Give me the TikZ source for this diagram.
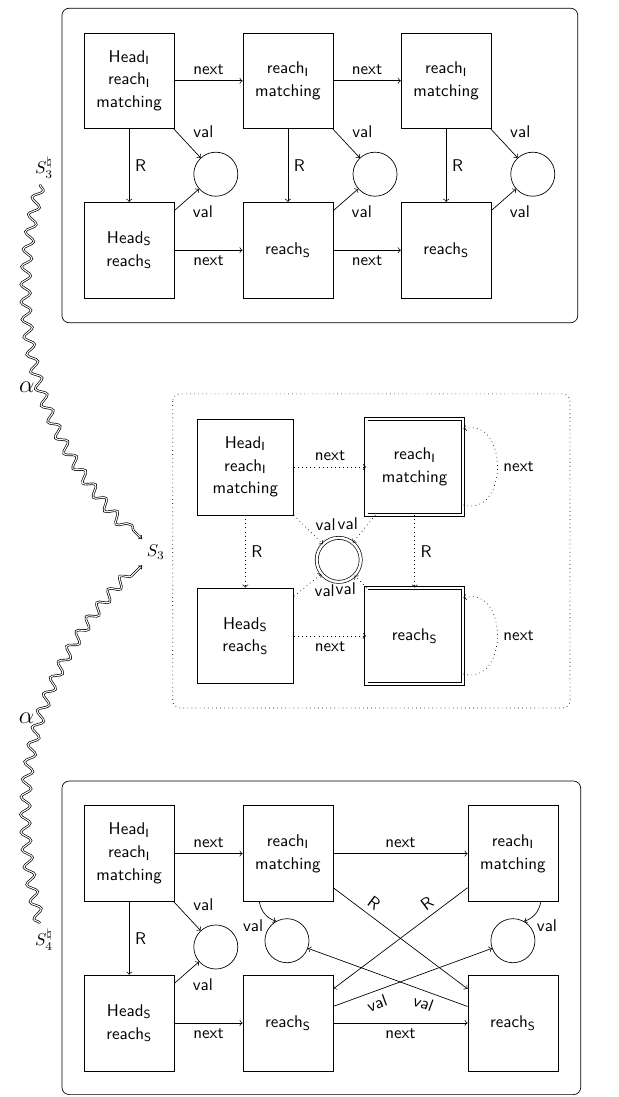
\documentclass[tikz,border=0pt]{standalone}
\usepackage{tikz}
\usetikzlibrary{arrows,arrows.meta,decorations.pathmorphing}

\begin{document}
\begin{tikzpicture}[>=to,auto,font=\sffamily]
  \tikzstyle{cell}=[draw,align=center,minimum width=1.86cm,minimum height=1.98cm,inner sep=1pt,
    font=\sffamily\linespread{1.12}\selectfont]
  \tikzstyle{valnode}=[draw,circle,minimum size=0.91cm,inner sep=0pt]
  \tikzstyle{summary}=[double,double distance=1.4pt]
  \tikzstyle{panel}=[rounded corners=1.5mm]
  \tikzstyle{abstraction}=[-{Implies[scale=1.3]},double,decorate,
    decoration={snake,amplitude=0.1cm,segment length=0.36cm,post length=1.5mm}]

  \useasboundingbox (0,0) rectangle (12.79,-22.67);

  % the heap S_3^natural
  \draw[panel] (1.28,-0.17) rectangle (11.94,-6.67);
  \node[cell]    (TI1) at (2.67,-1.67) {Head$_\mathsf{I}$\\reach$_\mathsf{I}$\\matching};
  \node[cell]    (TI2) at (5.95,-1.67) {reach$_\mathsf{I}$\\matching};
  \node[cell]    (TI3) at (9.22,-1.67) {reach$_\mathsf{I}$\\matching};
  \node[cell]    (TS1) at (2.67,-5.17) {Head$_\mathsf{S}$\\reach$_\mathsf{S}$};
  \node[cell]    (TS2) at (5.95,-5.17) {reach$_\mathsf{S}$};
  \node[cell]    (TS3) at (9.22,-5.17) {reach$_\mathsf{S}$};
  \node[valnode] (TV1) at (4.46,-3.6) {};
  \node[valnode] (TV2) at (7.75,-3.6) {};
  \node[valnode] (TV3) at (11.01,-3.6) {};

  \path[->] (TI1) edge node {next} (TI2)
                  edge node {R} (TS1)
                  edge node[above right] {val} (TV1)
            (TI2) edge node {next} (TI3)
                  edge node {R} (TS2)
                  edge node[above right] {val} (TV2)
            (TI3) edge node {R} (TS3)
                  edge node[above right] {val} (TV3)
            (TS1) edge node[swap] {next} (TS2)
                  edge node[below right] {val} (TV1)
            (TS2) edge node[swap] {next} (TS3)
                  edge node[below right] {val} (TV2)
            (TS3) edge node[below right] {val} (TV3);

  % the summary S_3
  \draw[panel,dotted] (3.57,-8.14) rectangle (11.78,-14.63);
  \node[cell,minimum width=2cm]         (MI1) at (5.07,-9.65) {Head$_\mathsf{I}$\\reach$_\mathsf{I}$\\matching};
  \node[cell,summary,minimum width=2cm] (MI2) at (8.57,-9.65) {reach$_\mathsf{I}$\\matching};
  \node[cell,minimum width=2cm]         (MS1) at (5.07,-13.14) {Head$_\mathsf{S}$\\reach$_\mathsf{S}$};
  \node[cell,summary,minimum width=2cm] (MS2) at (8.57,-13.14) {reach$_\mathsf{S}$};
  \node[valnode,summary]                (MV)  at (7.0,-11.57) {};

  \path[->,dotted] (MI1) edge node {next} (MI2)
                         edge node {R} (MS1)
                         edge node[pos=0.65,above right,inner sep=1.5pt] {val} (MV)
                   (MI2) edge node {R} (MS2)
                         edge node[pos=0.65,above left,inner sep=1.5pt] {val} (MV)
                   (MS1) edge node[swap] {next} (MS2)
                         edge node[pos=0.65,below right,inner sep=1.5pt] {val} (MV)
                   (MS2) edge node[pos=0.65,below left,inner sep=1.5pt] {val} (MV);
  \draw[->,dotted] (MI2.-38) to[out=-15,in=15,distance=0.97cm] node[right] {next} (MI2.38);
  \draw[->,dotted] (MS2.-38) to[out=-15,in=15,distance=0.97cm] node[right] {next} (MS2.38);

  % the heap S_4^natural
  \draw[panel] (1.28,-16.14) rectangle (12.0,-22.62);
  \node[cell]    (BI1) at (2.67,-17.64) {Head$_\mathsf{I}$\\reach$_\mathsf{I}$\\matching};
  \node[cell]    (BI2) at (5.95,-17.64) {reach$_\mathsf{I}$\\matching};
  \node[cell]    (BI3) at (10.6,-17.64) {reach$_\mathsf{I}$\\matching};
  \node[cell]    (BS1) at (2.67,-21.14) {Head$_\mathsf{S}$\\reach$_\mathsf{S}$};
  \node[cell]    (BS2) at (5.95,-21.14) {reach$_\mathsf{S}$};
  \node[cell]    (BS3) at (10.6,-21.14) {reach$_\mathsf{S}$};
  \node[valnode] (BV1) at (4.46,-19.57) {};
  \node[valnode] (BV2) at (5.93,-19.44) {};
  \node[valnode] (BV3) at (10.6,-19.44) {};

  \path[->] (BI1) edge node {next} (BI2)
                  edge node {R} (BS1)
                  edge node[above right] {val} (BV1)
            (BI2) edge node {next} (BI3)
                  edge[bend right] node[pos=1,left=4pt,yshift=-0.1cm] {val} (BV2)
                  edge node[near start,sloped,above] {R} (BS3)
            (BI3) edge[bend left] node[pos=1,right=4pt,yshift=-0.1cm] {val} (BV3)
                  edge node[near start,sloped,above] {R} (BS2)
            (BS1) edge node[swap] {next} (BS2)
                  edge node[below right] {val} (BV1)
            (BS2) edge node[swap] {next} (BS3)
                  edge node[near start,sloped,below] {val} (BV3)
            (BS3) edge node[near start,sloped,below] {val} (BV2);

  % abstraction
  \node (S3n) at (0.91,-3.47)  {$S_3^\natural$};
  \node (S3)  at (3.22,-11.41) {$S_3$};
  \node (S4n) at (0.91,-19.42) {$S_4^\natural$};
  \draw[abstraction] (S3n) to[bend right=30] node[pos=0.53,left=1pt] {\Large$\alpha$} (S3);
  \draw[abstraction] (S4n) to[bend left=30] node[pos=0.53,left=1pt] {\Large$\alpha$} (S3);
\end{tikzpicture}
\end{document}
